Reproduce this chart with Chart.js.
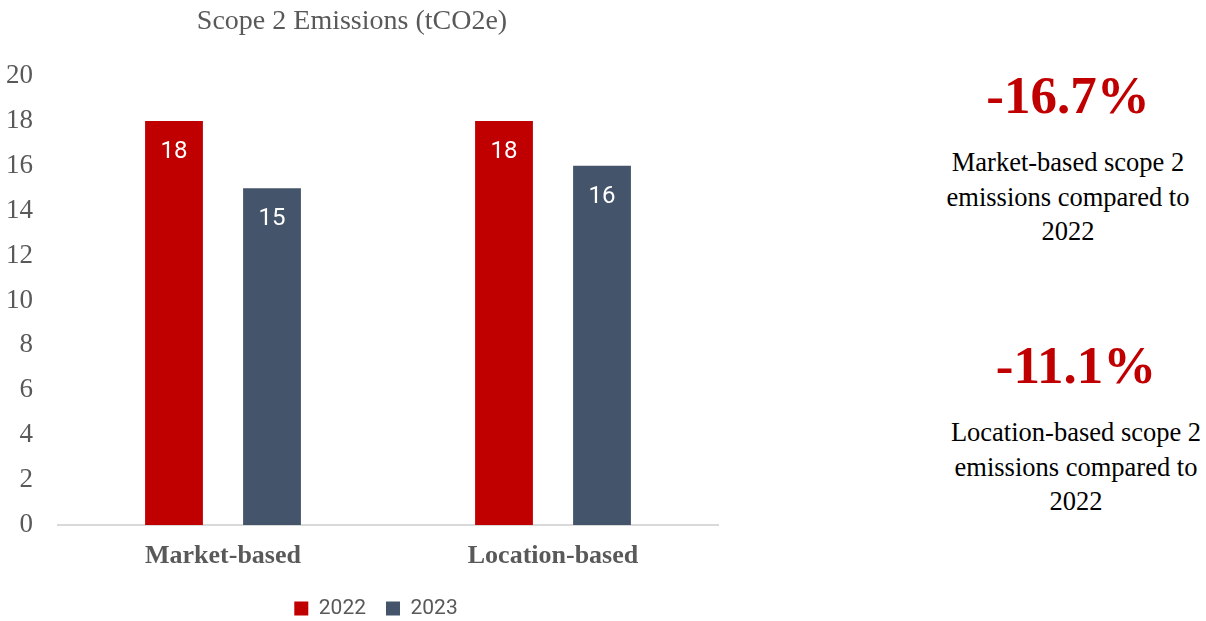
<!DOCTYPE html>
<html>
<head>
<meta charset="utf-8">
<script src="https://cdn.jsdelivr.net/npm/chart.js@4.4.0/dist/chart.umd.min.js"></script>
<style>
    body { margin: 0; background: #fff; width: 1206px; height: 621px; overflow: hidden; position: relative; }
    #chart-box { position: absolute; left: 0; top: 0; width: 740px; height: 621px; }
    .note { position: absolute; text-align: center; font-family: "Liberation Serif", "Times New Roman", serif; }
    .pct { color: #c00000; font-weight: bold; font-size: 53px; line-height: 60px; }
    .desc { color: #000; font-size: 26.5px; line-height: 34.5px; margin-top: 20px; white-space: nowrap; }
</style>
</head>
<body>
<div id="chart-box"><canvas id="emissions-chart" width="740" height="621"></canvas></div>

<div class="note" style="left: 918px; top: 65px; width: 300px;">
    <div class="pct">-16.7%</div>
    <div class="desc">Market-based scope 2<br>emissions compared to<br>2022</div>
</div>
<div class="note" style="left: 926px; top: 335px; width: 300px;">
    <div class="pct">-11.1%</div>
    <div class="desc">Location-based scope 2<br>emissions compared to<br>2022</div>
</div>

<script>
const categories = ['Market-based', 'Location-based'];
const values2022 = [18, 18];
const values2023 = [15, 16];
const yTicks = [0, 2, 4, 6, 8, 10, 12, 14, 16, 18, 20];

// white value labels just inside the bar tops
const barLabels = {
    id: 'barLabels',
    afterDatasetsDraw(chart) {
        const ctx = chart.ctx;
        ctx.save();
        ctx.fillStyle = '#ffffff';
        ctx.font = '24px Roboto, sans-serif';
        ctx.textAlign = 'center';
        ctx.textBaseline = 'middle';
        chart.data.datasets.forEach((ds, i) => {
            chart.getDatasetMeta(i).data.forEach((bar, j) => {
                ctx.fillText(ds.data[j], bar.x, bar.y + 31);
            });
        });
        ctx.restore();
    }
};

// legend sits a bit right of the title centre in the original
const legendShift = {
    id: 'legendShift',
    afterLayout(chart) {
        chart.legend.left += 24;
        chart.legend.right += 24;
    }
};

const ctx = document.getElementById('emissions-chart').getContext('2d');
new Chart(ctx, {
    type: 'bar',
    data: {
        labels: categories,
        datasets: [{
            label: '2022',
            data: values2022,
            backgroundColor: '#c00000',
            barPercentage: 0.59,
            categoryPercentage: 0.594
        }, {
            label: '2023',
            data: values2023,
            backgroundColor: '#44546a',
            barPercentage: 0.59,
            categoryPercentage: 0.594
        }]
    },
    options: {
        responsive: false,
        animation: false,
        // negative left padding pulls the title centre over to the left like the original
        layout: { padding: { left: -14, right: 22, top: 0, bottom: -8 } },
        plugins: {
            title: {
                display: true,
                text: 'Scope 2 Emissions (tCO2e)',
                color: '#595959',
                font: { family: '"Liberation Serif", serif', size: 28, weight: 'normal' },
                padding: { top: 5, bottom: 37.4 }
            },
            legend: {
                position: 'bottom',
                labels: {
                    color: '#595959',
                    font: { family: 'Roboto, sans-serif', size: 21 },
                    boxWidth: 14,
                    boxHeight: 14,
                    padding: 20
                }
            },
            tooltip: { enabled: false }
        },
        scales: {
            x: {
                grid: { display: false, drawTicks: false },
                border: { color: '#d9d9d9', width: 2 },
                ticks: {
                    color: '#595959',
                    padding: 16,
                    font: { family: '"Liberation Serif", serif', size: 26, weight: 'bold' }
                },
                afterFit: scale => { scale.height = 53; }
            },
            y: {
                min: 0,
                max: 20,
                afterBuildTicks: axis => { axis.ticks = yTicks.map(v => ({ value: v })); },
                grid: { display: false, drawTicks: false },
                border: { display: false },
                ticks: {
                    color: '#595959',
                    padding: 25,
                    font: { family: '"Liberation Serif", serif', size: 27 }
                },
                afterFit: scale => { scale.width = 72; }
            }
        }
    },
    plugins: [barLabels, legendShift]
});
</script>
</body>
</html>
